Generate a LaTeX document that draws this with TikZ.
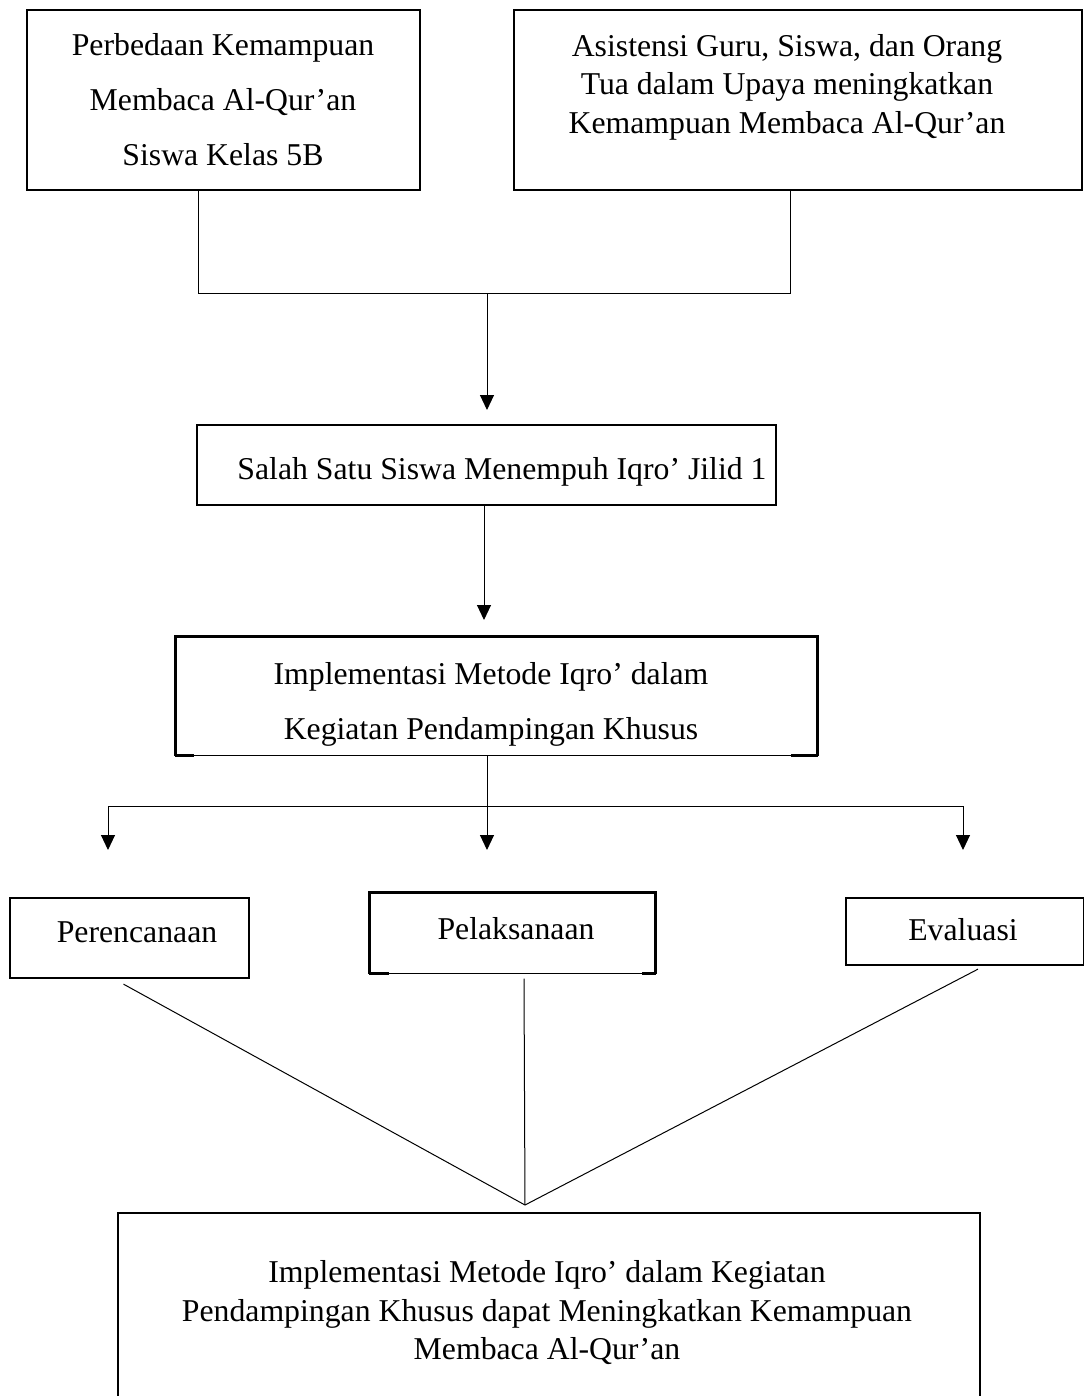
\documentclass[tikz,border=0pt]{standalone}
\usepackage{fontspec}
\setmainfont{Liberation Serif}
\usetikzlibrary{arrows.meta}

\tikzset{
  box/.style={draw, line width=0.9pt, inner sep=0pt},
  frame/.style={inner sep=0pt},
  edge/.style={line width=0.9pt, line join=miter},
  txt/.style={align=center, inner sep=0pt, font=\fontsize{12.7}{15.4}\selectfont},
  wide/.style={align=center, inner sep=0pt, font=\fontsize{12.7}{22}\selectfont},
  link/.style={line width=0.4pt},
  arr/.style={line width=0.4pt, -{Triangle[length=6pt, width=5.6pt]}},
}

\begin{document}
\begin{tikzpicture}[x=0.4pt, y=-0.4pt]
\useasboundingbox (0,0) rectangle (1084,1396);

% boxes
\node[box, minimum width=157.2pt, minimum height=72pt] (A) at (223.5,100) {};
\node[box, minimum width=227.2pt, minimum height=72pt] (B) at (798,100) {};
\node[box, minimum width=231.6pt, minimum height=32pt] (C) at (486.5,465) {};
\node[frame, minimum width=256.4pt, minimum height=47.2pt] (D) at (496.5,696) {};
\node[box, minimum width=95.6pt, minimum height=32pt] (E) at (129.5,938) {};
\node[frame, minimum width=114pt, minimum height=32pt] (F) at (512.5,933) {};
\node[box, minimum width=95pt, minimum height=26.8pt] (G) at (965,931.5) {};
\node[box, minimum width=344.8pt, minimum height=76pt] (H) at (549,1308) {};

% frames whose lower edge is thin between heavy corner pieces
\foreach \b/\l/\r in {D/19/27, F/20/14} {
  \draw[edge] (\b.south west) -- (\b.north west) -- (\b.north east) -- (\b.south east);
  \draw[link] (\b.south west) -- (\b.south east);
  \draw[edge] (\b.south west) -- ++(\l,0);
  \draw[edge] (\b.south east) -- ++(-\r,0);
}

% texts
\node[wide] (tA) at (223,100) {Perbedaan Kemampuan\\Membaca Al-Qur’an\\Siswa Kelas 5B};
\node[txt] (tB) at (787,87) {Asistensi Guru, Siswa, dan Orang\\Tua dalam Upaya meningkatkan\\Kemampuan Membaca Al-Qur’an};
\node[txt] (tC) at (502,472) {Salah Satu Siswa Menempuh Iqro’ Jilid 1};
\node[wide] (tD) at (491,704) {Implementasi Metode Iqro’ dalam\\Kegiatan Pendampingan Khusus};
\node[txt] (tE) at (137,932) {Perencanaan};
\node[txt] (tF) at (516,929) {Pelaksanaan};
\node[txt] (tG) at (963,930) {Evaluasi};
\node[txt] (tH) at (547,1313) {Implementasi Metode Iqro’ dalam Kegiatan\\Pendampingan Khusus dapat Meningkatkan Kemampuan\\Membaca Al-Qur’an};

% joints
\coordinate (jA) at (198,293);
\coordinate (jB) at (790,293);
\coordinate (j1) at (487,293);
\coordinate (t1) at (487,410);
\coordinate (t2) at (484,620);
\coordinate (j2) at (487,806);
\coordinate (jE) at (108,806);
\coordinate (jG) at (963,806);
\coordinate (tE2) at (108,850);
\coordinate (tF2) at (487,850);
\coordinate (tG2) at (963,850);
\coordinate (m) at (525,1205);

% connectors
\draw[link] (A.south -| jA) -- (jA) -- (jB) -- (B.south -| jB);
\draw[arr] (j1) -- (t1);
\draw[arr] (C.south -| t2) -- (t2);
\draw[link] (D.south -| j2) -- (j2);
\draw[link] (jE) -- (jG);
\draw[arr] (jE) -- (tE2);
\draw[arr] (j2) -- (tF2);
\draw[arr] (jG) -- (tG2);
\draw[link] ([shift={(-6,5)}]E.south) -- (m);
\draw[link] ([shift={(11.5,5)}]F.south) -- (m);
\draw[link] ([shift={(13,3)}]G.south) -- (m);
\end{tikzpicture}
\end{document}
